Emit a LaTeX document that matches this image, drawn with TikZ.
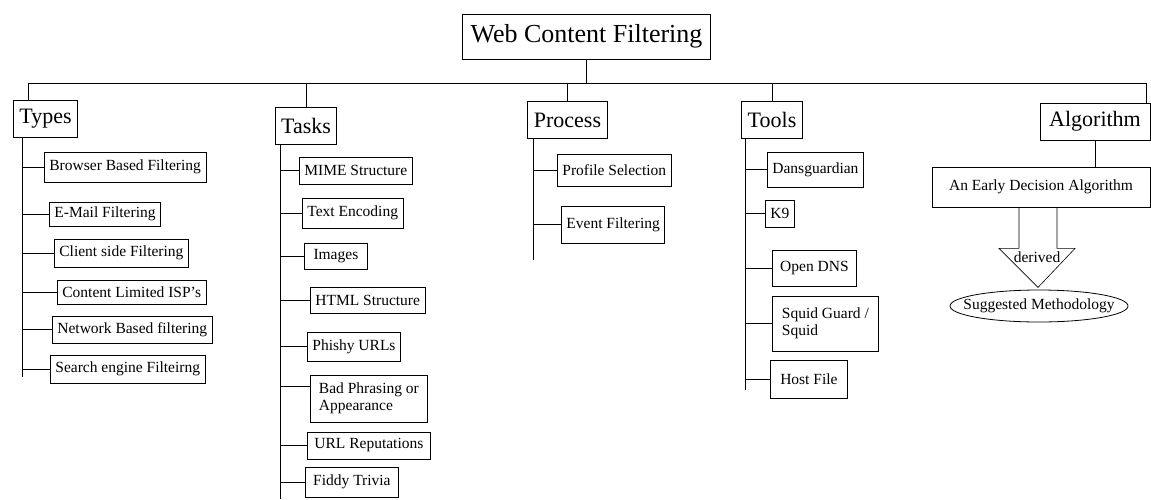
\documentclass[tikz,border=0pt]{standalone}
\usepackage{fontspec}
\setmainfont{Liberation Serif}
\usepackage{tikz}
\usetikzlibrary{positioning,calc}
\newcommand{\titlefont}{\fontsize{26}{30}\selectfont}
\newcommand{\catfont}{\fontsize{22}{26}\selectfont}
\newcommand{\itemfont}{\fontsize{15.5}{17.5}\selectfont}

\begin{document}
\begin{tikzpicture}[x=1pt,y=-1pt,line width=0.8pt,
  head/.style={draw,font=\titlefont,inner xsep=8pt,minimum height=45pt},
  cat/.style={draw,font=\catfont,inner xsep=6pt,minimum height=37pt},
  leaf/.style={draw,font=\itemfont,inner xsep=5pt,inner ysep=3pt,minimum height=27pt,anchor=west,align=left}]
\useasboundingbox (0,0) rectangle (1151,499);
\node[head] (web) at (586.5,36.5) {Web Content Filtering};
\node[cat] (types) at (45.5,118.5) {Types};
\node[cat] (tasks) at (306,125.5) {Tasks};
\node[cat] (process) at (567.5,120) {Process};
\node[cat] (tools) at (772,120) {Tools};
\node[cat,minimum width=110pt] (algo) at (1095,121.5) {Algorithm};
% types
\node[leaf,minimum height=30pt] (brw) at (44,167) {Browser Based Filtering};
\node[leaf,minimum height=24pt] (eml) at (49,214) {E-Mail Filtering};
\node[leaf,minimum height=28pt] (cli) at (54,253) {Client side Filtering};
\node[leaf,minimum height=24pt] (isp) at (57,292) {Content Limited ISP's};
\node[leaf] (net) at (52,329.5) {Network Based filtering};
\node[leaf,minimum height=28pt] (srch) at (50,369) {Search engine Filteirng};
% tasks
\node[leaf] (mime) at (299,170.5) {MIME Structure};
\node[leaf,minimum height=30pt] (enc) at (302,213) {Text Encoding};
\node[leaf,minimum height=26pt,minimum width=63pt] (img) at (304,256) {Images};
\node[leaf,minimum height=26pt] (html) at (310,300) {HTML Structure};
\node[leaf,minimum height=29pt] (phish) at (307,346.5) {Phishy URLs};
\node[leaf,minimum height=47pt,minimum width=117pt] (bad) at (310,398.5) {Bad Phrasing or\\Appearance};
\node[leaf,minimum width=123pt] (urlrep) at (307,445.5) {URL Reputations};
\node[leaf,minimum height=30pt,minimum width=93pt] (fiddy) at (305,482) {Fiddy Trivia};
% process
\node[leaf,minimum height=32pt] (prof) at (557,170) {Profile Selection};
\node[leaf,minimum height=37pt] (event) at (561,224.5) {Event Filtering};
% tools
\node[leaf,minimum height=35pt] (dans) at (767,169.5) {Dansguardian};
\node[leaf] (kn) at (765,213.5) {K9};
\node[leaf,minimum height=36pt,minimum width=84pt] (odns) at (772,268) {Open DNS};
\node[leaf,minimum height=55pt,minimum width=106pt] (squid) at (772,323.5) {Squid Guard /\\Squid};
\node[leaf,minimum height=38pt,minimum width=77pt] (host) at (770,379) {Host File};
% algorithm
\node[draw,font=\itemfont,minimum width=218pt,minimum height=40pt] (early) at (1041,187) {An Early Decision Algorithm};
\node[font=\itemfont,inner sep=0pt] (sugg) at (1039,306) {Suggested Methodology};
\coordinate (busL) at (28,83); \coordinate (busR) at (1146,83);
\coordinate (tybar) at (22,377); \coordinate (tkbar) at (280,499);
\coordinate (prbar) at (533,260); \coordinate (tlbar) at (745,390);
\coordinate (ar) at ([xshift=-3]early.south);
\draw (web.south) -- (web.south |- busL); \draw (busL) -- (busR);
\draw (busL) -- (busL |- types.north); \draw (tasks.north) -- (tasks.north |- busL);
\draw (process.north) -- (process.north |- busL); \draw (tools.north) -- (tools.north |- busL);
\draw (busR) -- (busR |- algo.north); \draw (algo.south) -- (algo.south |- early.north);
\draw (types.south -| tybar) -- (tybar); \draw (tasks.south -| tkbar) -- (tkbar);
\draw (process.south -| prbar) -- (prbar); \draw (tools.south -| tlbar) -- (tlbar);
\draw (brw.west) -- (brw.west -| tybar); \draw (eml.west) -- (eml.west -| tybar);
\draw (cli.west) -- (cli.west -| tybar); \draw (isp.west) -- (isp.west -| tybar);
\draw (net.west) -- (net.west -| tybar); \draw (srch.west) -- (srch.west -| tybar);
\draw (mime.west) -- (mime.west -| tkbar); \draw (enc.west) -- (enc.west -| tkbar);
\draw (img.west) -- (img.west -| tkbar); \draw (html.west) -- (html.west -| tkbar);
\draw (phish.west) -- (phish.west -| tkbar); \draw ([yshift=12]bad.west) -- ([yshift=12]bad.west -| tkbar);
\draw (urlrep.west) -- (urlrep.west -| tkbar); \draw (fiddy.west) -- (fiddy.west -| tkbar);
\draw (prof.west) -- (prof.west -| prbar); \draw (event.west) -- (event.west -| prbar);
\draw (dans.west) -- (dans.west -| tlbar); \draw (kn.west) -- (kn.west -| tlbar);
\draw (odns.west) -- (odns.west -| tlbar); \draw (squid.west) -- (squid.west -| tlbar);
\draw (host.west) -- (host.west -| tlbar);
\draw[line width=0.6pt] ([xshift=-19]ar) -- ++(0,41) -- ++(-20,0) -- ++(39,39) -- ++(37,-39) -- ++(-18,0) -- ++(0,-41);
\node[font=\itemfont] (der) at (1037,257) {derived};
\draw (sugg.center) ellipse [x radius=89pt, y radius=16pt];
\end{tikzpicture}
\end{document}
